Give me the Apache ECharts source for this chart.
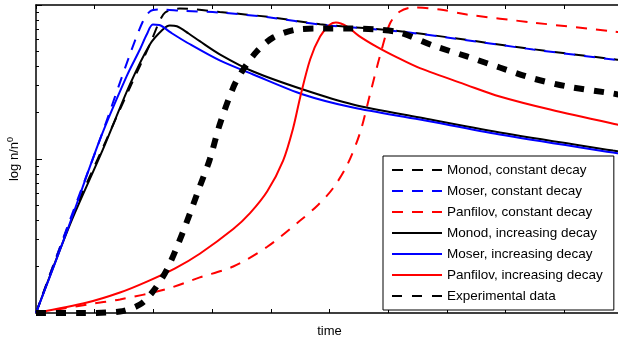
<!DOCTYPE html>
<html>
<head>
<meta charset="utf-8">
<script src="https://cdn.jsdelivr.net/npm/echarts@6/dist/echarts.min.js"></script>
<style>
  html, body { margin: 0; padding: 0; background: #fff; }
  #chart { width: 618px; height: 339px; }
</style>
</head>
<body>
<div id="chart"></div>
<script>
// x: time (tick units), y: log10(n/n0)
const monodConst = [[0,0],[0.58,0.594],[1.14,1.075],[1.6,1.464],[1.94,1.744],[2.08,1.873],[2.2,1.951],[2.45,1.977],[3.13,1.955],[3.99,1.921],[4.84,1.875],[6.2,1.83],[7.0,1.791],[8.47,1.713],[9.83,1.648],[10,1.64]]
const moserConst = [[0,0],[0.58,0.606],[1.09,1.127],[1.6,1.679],[1.82,1.893],[1.94,1.958],[2.08,1.971],[2.5,1.962],[3.13,1.951],[3.99,1.919],[4.84,1.873],[6.2,1.828],[7.0,1.789],[8.47,1.711],[9.83,1.646],[10,1.638]]
const panfilovConst = [[0,0],[0.87,0.055],[1.43,0.088],[2.2,0.153],[2.79,0.231],[3.36,0.302],[3.94,0.43],[4.5,0.6],[4.8,0.7],[5.06,0.81],[5.3,0.96],[5.52,1.17],[5.69,1.42],[5.86,1.67],[6.03,1.88],[6.2,1.958],[6.42,1.984],[6.88,1.971],[7.34,1.938],[8.47,1.886],[9.83,1.828],[10,1.82]]
const monodIncr = [[0,0],[0.58,0.575],[1.14,1.062],[1.6,1.484],[1.94,1.744],[2.16,1.841],[2.28,1.867],[2.4,1.862],[2.6,1.815],[2.79,1.765],[3.13,1.68],[3.7,1.568],[4.55,1.451],[5.4,1.354],[6.54,1.269],[7.9,1.172],[9.83,1.055],[10,1.045]]
const moserIncr = [[0,0],[0.52,0.523],[1.09,1.127],[1.545,1.538],[1.77,1.711],[1.886,1.808],[1.99,1.873],[2.1,1.87],[2.3,1.82],[2.6,1.75],[3.13,1.64],[3.7,1.549],[4.55,1.419],[5.4,1.334],[6.54,1.256],[7.9,1.159],[9.83,1.042],[10,1.032]]
const panfilovIncr = [[0,0],[0.87,0.068],[1.43,0.133],[1.89,0.204],[2.37,0.29],[2.79,0.385],[3.36,0.545],[3.65,0.65],[3.94,0.79],[4.21,0.99],[4.38,1.2],[4.5,1.4],[4.67,1.646],[4.84,1.795],[5.01,1.873],[5.11,1.886],[5.3,1.86],[5.5,1.8],[5.8,1.73],[6.15,1.66],[6.54,1.59],[7.34,1.48],[7.9,1.406],[8.76,1.321],[9.9,1.224],[10,1.218]]
const experimental = [[0,0],[0.75,0],[1.43,0.01],[1.77,0.055],[1.99,0.139],[2.23,0.282],[2.5,0.523],[2.79,0.821],[2.96,0.997],[3.13,1.224],[3.36,1.464],[3.53,1.581],[3.76,1.698],[4.04,1.789],[4.45,1.841],[4.84,1.847],[5.4,1.847],[5.81,1.841],[6.2,1.821],[6.76,1.737],[7.34,1.666],[7.9,1.594],[8.47,1.523],[9.05,1.471],[9.83,1.425],[10,1.412]]

const seriesNames = ['Monod, constant decay', 'Moser, constant decay', 'Panfilov, constant decay',
  'Monod, increasing decay', 'Moser, increasing decay', 'Panfilov, increasing decay', 'Experimental data']
// log ticks: decades and in-between
const majorTicks = [1, 10, 100]
const minorTicks = [2, 3, 4, 5, 6, 7, 8, 9, 20, 30, 40, 50, 60, 70, 80, 90]

const font = 'Liberation Sans, Arial, sans-serif'
const dash = [11, 9]

function line(name, data, color, type, width) {
  return {
    name: name,
    type: 'line',
    data: data,
    symbol: 'none',
    smooth: 0.3,
    silent: true,
    animation: false,
    lineStyle: { color: color, width: width, type: type },
    itemStyle: { color: color }
  }
}

const chart = echarts.init(document.getElementById('chart'), null, { renderer: 'canvas' })

const xBase = {
  type: 'value', min: 0, max: 10, interval: 1,
  axisLine: { show: true, onZero: false, lineStyle: { color: '#000', width: 1.5 } },
  axisTick: { show: true, inside: true, length: 4, lineStyle: { color: '#000', width: 1 } },
  axisLabel: { show: false },
  splitLine: { show: false }
}

chart.setOption({
  animation: false,
  grid: { left: 36, right: -5, top: 5, bottom: 26, containLabel: false, outerBoundsMode: 'none' },
  xAxis: [
    Object.assign({}, xBase, {
      position: 'bottom',
      name: 'time', nameLocation: 'middle', nameGap: 12,
      nameTextStyle: { fontFamily: font, fontSize: 13, color: '#000' }
    }),
    Object.assign({}, xBase, { position: 'top' })
  ],
  yAxis: [
    {
      type: 'value', min: 0, max: 2, position: 'left',
      axisLine: { show: true, onZero: false, lineStyle: { color: '#000', width: 1.5 } },
      axisTick: { show: true, inside: true, length: 6, customValues: majorTicks.map(Math.log10), lineStyle: { color: '#000' } },
      axisLabel: { show: false },
      splitLine: { show: false },
      name: 'log n/n{sup|0}', nameLocation: 'middle', nameGap: 13, nameRotate: 90,
      nameTextStyle: {
        fontFamily: font, fontSize: 13, color: '#000',
        rich: { sup: { fontFamily: font, fontSize: 9, color: '#000', verticalAlign: 'top', padding: [0, 0, 8, 0] } }
      }
    },
    {
      type: 'value', min: 0, max: 2, position: 'left',
      axisLine: { show: false, onZero: false },
      axisTick: { show: true, inside: true, length: 3, customValues: minorTicks.map(Math.log10), lineStyle: { color: '#000' } },
      axisLabel: { show: false },
      splitLine: { show: false }
    }
  ],
  legend: {
    orient: 'vertical', left: 383, top: 156,
    data: seriesNames,
    backgroundColor: '#fff',
    borderColor: '#000', borderWidth: 1,
    padding: [7, 11, 7, 8],
    itemWidth: 50, itemHeight: 14, itemGap: 7,
    itemStyle: { opacity: 0 },
    selectedMode: false,
    textStyle: { fontFamily: font, fontSize: 13.5, color: '#000' }
  },
  series: [
    line(seriesNames[0], monodConst, '#000000', dash, 2),
    line(seriesNames[1], moserConst, '#0000ff', dash, 2),
    line(seriesNames[2], panfilovConst, '#ff0000', dash, 2),
    line(seriesNames[3], monodIncr, '#000000', 'solid', 2),
    line(seriesNames[4], moserIncr, '#0000ff', 'solid', 2),
    line(seriesNames[5], panfilovIncr, '#ff0000', 'solid', 2),
    line(seriesNames[6], experimental, '#000000', [10, 10], 6)
  ]
})
</script>
</body>
</html>
